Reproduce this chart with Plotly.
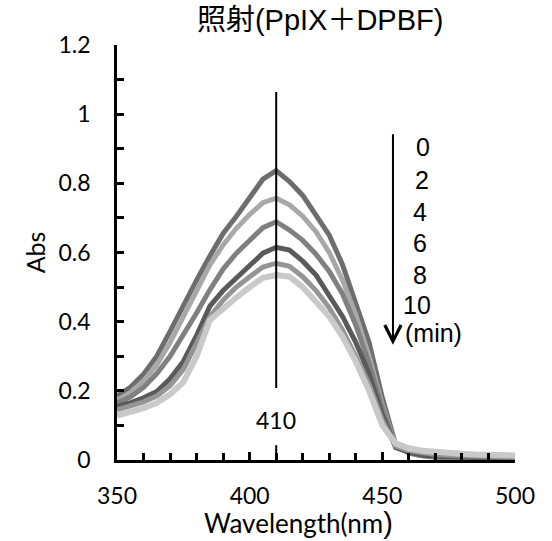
import plotly.graph_objects as go

# Absorption spectra of PpIX + DPBF under irradiation, sampled every 5 nm
wavelength = list(range(350, 505, 5))
times = [0, 2, 4, 6, 8, 10]  # irradiation time (min)
peak_wl = 410

abs_0min = [0.185, 0.21, 0.248, 0.30, 0.372, 0.448, 0.52, 0.59, 0.655, 0.705, 0.758,
            0.812, 0.837, 0.805, 0.765, 0.71, 0.65, 0.565, 0.455, 0.34, 0.18, 0.045,
            0.02, 0.012, 0.008, 0.006, 0.005, 0.004, 0.004, 0.003, 0.003]
abs_2min = [0.172, 0.195, 0.228, 0.275, 0.34, 0.415, 0.49, 0.564, 0.622, 0.67, 0.71,
            0.744, 0.757, 0.738, 0.705, 0.66, 0.60, 0.52, 0.42, 0.30, 0.16, 0.042,
            0.022, 0.014, 0.01, 0.008, 0.007, 0.006, 0.005, 0.005, 0.004]
abs_4min = [0.165, 0.182, 0.21, 0.25, 0.30, 0.36, 0.425, 0.492, 0.552, 0.598, 0.636,
            0.672, 0.689, 0.665, 0.635, 0.595, 0.545, 0.48, 0.39, 0.28, 0.15, 0.04,
            0.024, 0.016, 0.012, 0.01, 0.009, 0.008, 0.007, 0.006, 0.006]
abs_6min = [0.155, 0.165, 0.18, 0.198, 0.235, 0.285, 0.36, 0.445, 0.49, 0.525, 0.56,
            0.598, 0.615, 0.607, 0.575, 0.535, 0.475, 0.415, 0.34, 0.25, 0.13, 0.036,
            0.022, 0.014, 0.011, 0.009, 0.008, 0.007, 0.006, 0.006, 0.005]
abs_8min = [0.145, 0.155, 0.168, 0.185, 0.215, 0.262, 0.34, 0.414, 0.462, 0.5, 0.53,
            0.558, 0.569, 0.56, 0.53, 0.49, 0.44, 0.375, 0.30, 0.22, 0.115, 0.04,
            0.027, 0.02, 0.016, 0.014, 0.012, 0.011, 0.01, 0.009, 0.009]
abs_10min = [0.128, 0.138, 0.15, 0.165, 0.19, 0.225, 0.30, 0.405, 0.44, 0.47, 0.5,
             0.527, 0.535, 0.53, 0.5, 0.46, 0.415, 0.357, 0.285, 0.20, 0.10, 0.048,
             0.034, 0.027, 0.023, 0.02, 0.018, 0.016, 0.015, 0.014, 0.013]

series = [abs_0min, abs_2min, abs_4min, abs_6min, abs_8min, abs_10min]
colors = ["#6d6d6d", "#a8a8a8", "#808080", "#5a5a5a", "#959595", "#c9c9c9"]
widths = [5, 5, 5, 5, 5, 6]

tick_font = dict(family="Lato, Carlito, sans-serif", size=23, color="black")
label_font = dict(family="Liberation Sans, Arial, sans-serif", size=25, color="black")

fig = go.Figure()
for t, ys, c, w in zip(times, series, colors, widths):
    fig.add_trace(go.Scatter(x=wavelength, y=ys, mode="lines", name=f"{t} min",
                             line=dict(color=c, width=w), showlegend=False))

# marker line at the absorption peak
fig.add_shape(type="line", xref="x", yref="y", x0=peak_wl, x1=peak_wl, y0=0.208, y1=1.064,
              line=dict(color="black", width=2))
fig.add_shape(type="line", xref="x", yref="y", x0=peak_wl, x1=peak_wl, y0=0, y1=0.043,
              line=dict(color="black", width=2))
fig.add_annotation(x=peak_wl, y=0.116, xref="x", yref="y", text=str(peak_wl),
                   showarrow=False, font=tick_font)

# time labels and the arrow showing the direction of decrease
label_x = [465.3, 464.9, 464.2, 464.2, 464.2, 463.0]
label_y = [0.905, 0.810, 0.717, 0.627, 0.535, 0.448]
for t, lx, ly in zip(times, label_x, label_y):
    fig.add_annotation(x=lx, y=ly, xref="x", yref="y", text=str(t),
                       showarrow=False, font=label_font)
fig.add_annotation(x=469.1, y=0.367, xref="x", yref="y", text="(min)",
                   showarrow=False, font=label_font)
fig.add_annotation(x=454.0, y=0.333, xref="x", yref="y", ax=454.0, ay=0.946,
                   axref="x", ayref="y", text="", showarrow=True,
                   arrowhead=5, arrowsize=1.6, arrowwidth=2, arrowcolor="black")

# x-axis title, set a little left of the plot centre
fig.add_annotation(x=0.455, y=-0.152, xref="paper", yref="paper", xanchor="center", yanchor="middle",
                   text="Wavelength(nm<span style='font-size:29px;font-family:Liberation Sans'>)</span>",
                   showarrow=False, font=dict(family="Lato, sans-serif", size=26, color="black"))

fig.update_layout(
    width=552, height=541,
    margin=dict(l=117, r=37, t=45, b=81, autoexpand=False),
    paper_bgcolor="white", plot_bgcolor="white",
    title=dict(text="照射(PpIX＋DPBF)", x=0.58, xanchor="center", y=0.963, yanchor="middle",
               font=dict(family="Liberation Sans, Noto Sans CJK JP, sans-serif",
                         size=29, color="black")),
    xaxis=dict(range=[350, 500], tickvals=[350, 400, 450, 500], automargin=False,
               ticks="inside", ticklen=8, tickwidth=2.5, tickcolor="black",
               minor=dict(dtick=10, ticks="inside", ticklen=7, tickwidth=2.5, tickcolor="black"),
               showline=True, linecolor="black", linewidth=2.5,
               showgrid=False, zeroline=False, tickfont=tick_font, ticklabelstandoff=14),
    yaxis=dict(range=[0, 1.2], tickvals=[0, 0.2, 0.4, 0.6, 0.8, 1.0, 1.2], automargin=False,
               ticktext=["0", "0.2", "0.4", "0.6", "0.8", "1", "1.2"],
               ticks="inside", ticklen=7, tickwidth=2.5, tickcolor="black",
               minor=dict(dtick=0.1, ticks="inside", ticklen=7, tickwidth=2.5, tickcolor="black"),
               showline=True, linecolor="black", linewidth=2.5,
               showgrid=False, zeroline=False, tickfont=tick_font, ticklabelstandoff=19,
               title=dict(text="Abs", font=dict(family="Lato, sans-serif", size=25, color="black"),
                          standoff=6)),
)

fig.write_html("out.html")
